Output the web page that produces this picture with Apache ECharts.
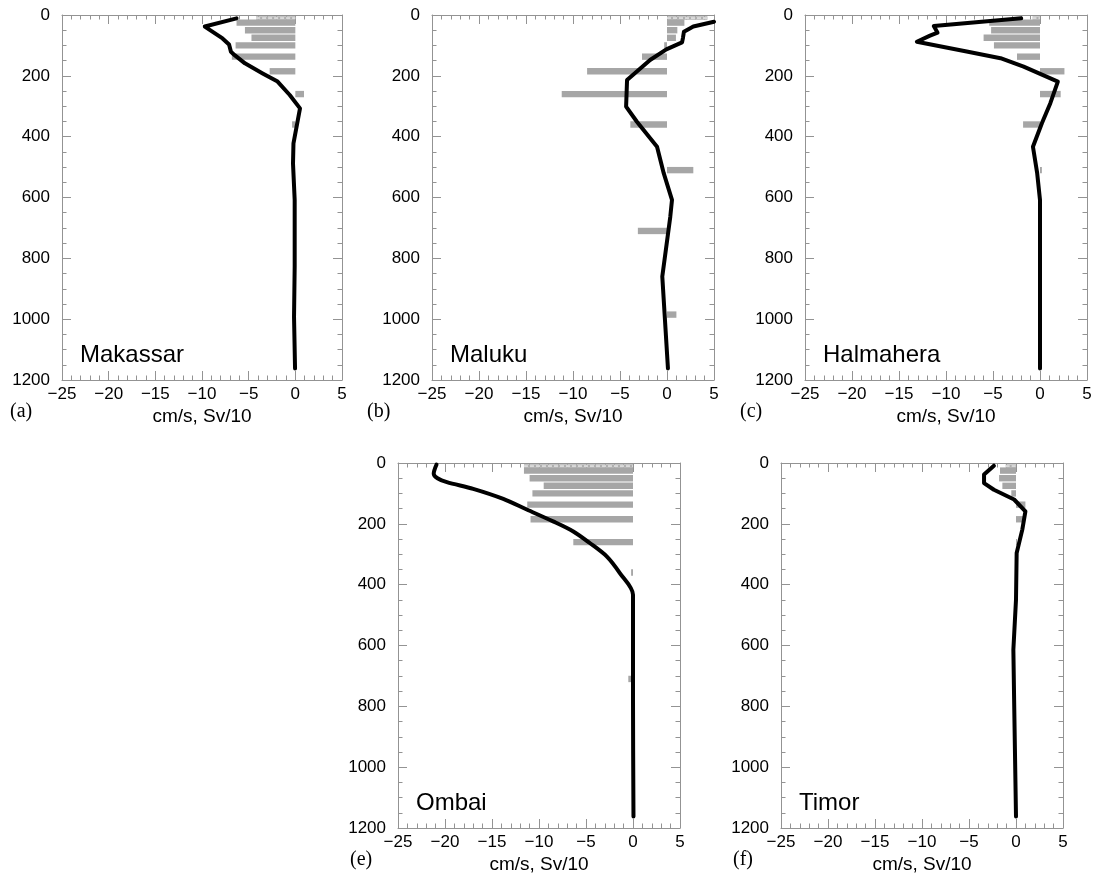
<!DOCTYPE html>
<html>
<head>
<meta charset="utf-8">
<script src="https://cdn.jsdelivr.net/npm/echarts@6/dist/echarts.min.js"></script>
<style>
  html, body { margin: 0; padding: 0; background: #fff; }
  #chart { width: 1097px; height: 874px; }
</style>
</head>
<body>
<div id="chart"></div>
<script>
// Layer centre depths (m) shared by the transport bars of every strait
const layerDepths = [10, 25, 50, 75, 100, 137, 185, 260, 360, 510, 710, 985];

// Layer transports (Sv/10), one entry per layer, null where no bar
const makassarBars  = [-4.2, -6.3, -5.4, -4.7, -6.4, -6.8, -2.75, 0.93, -0.35, null, null, null];
const malukuBars    = [4.3, 1.85, 1.1, 0.95, -0.3, -2.66, -8.5, -11.2, -3.9, 2.8, -3.1, 1.0];
const halmaheraBars = [-0.8, -5.4, -5.2, -6.0, -4.9, -2.45, 2.6, 2.2, -1.8, 0.2, null, null];
const ombaiBars     = [-11.6, -11.6, -11.0, -9.5, -10.7, -11.25, -10.9, -6.35, -0.2, null, -0.5, null];
const timorBars     = [-1.1, -1.7, -1.8, -1.45, -0.5, 1.0, 0.75, 0.1, null, null, null, null];

// Along-strait velocity profiles (cm/s) and their depths (m)
const makassarDepth = [11, 38, 77, 97, 121, 132, 159, 192, 219, 263, 307, 356, 422, 488, 608, 827, 992, 1162];
const makassarSpeed = [-6.3, -9.7, -7.8, -7.1, -6.9, -6.5, -5.4, -3.5, -1.9, -0.6, 0.5, 0.2, -0.2, -0.25, -0.07, -0.07, -0.14, -0.03];

const malukuDepth = [22, 38, 55, 75, 90, 113, 148, 214, 301, 351, 433, 520, 608, 663, 860, 1162];
const malukuSpeed = [5.0, 2.8, 1.8, 1.7, 1.6, -0.07, -1.8, -4.25, -4.35, -3.2, -1.06, -0.35, 0.53, 0.35, -0.5, 0.1];

const halmaheraDepth = [11, 36, 58, 68, 88, 120, 142, 170, 219, 290, 356, 433, 520, 608, 1162];
const halmaheraSpeed = [-2.0, -11.3, -10.9, -11.7, -13.1, -7.8, -4.2, -1.74, 1.9, 1.1, 0.2, -0.75, -0.3, 0, 0];

const ombaiDepth = [5, 35, 50, 63, 85, 118, 153, 192, 225, 263, 307, 362, 433, 614, 778, 1162];
const ombaiSpeed = [-20.9, -21.2, -20.8, -19.8, -17.0, -13.8, -11.3, -8.5, -6.35, -4.6, -2.8, -1.4, 0, 0, 0, 0.05];

const timorDepth = [9, 38, 66, 88, 120, 159, 219, 296, 449, 614, 778, 1162];
const timorSpeed = [-2.35, -3.4, -3.4, -2.35, -0.2, 1.0, 0.67, 0.07, 0, -0.28, -0.2, 0];

// Axis ticks
const speedTicks = { min: -25, max: 5, step: 5 };
const depthTicks = { min: 0, max: 1200, step: 200 };
const axisTitle = 'cm/s, Sv/10';

const panels = [
  { name: 'Makassar',  tag: '(a)', bars: makassarBars,  depth: makassarDepth,  speed: makassarSpeed,
    box: { left: 62,  top: 15,  width: 280, height: 365 }, tagAt: [10, 413], smooth: false },
  { name: 'Maluku',    tag: '(b)', bars: malukuBars,    depth: malukuDepth,    speed: malukuSpeed,
    box: { left: 432, top: 15,  width: 282, height: 365 }, tagAt: [367, 413], smooth: false },
  { name: 'Halmahera', tag: '(c)', bars: halmaheraBars, depth: halmaheraDepth, speed: halmaheraSpeed,
    box: { left: 805, top: 15,  width: 282, height: 365 }, tagAt: [740, 413], smooth: false },
  { name: 'Ombai',     tag: '(e)', bars: ombaiBars,     depth: ombaiDepth,     speed: ombaiSpeed,
    box: { left: 398, top: 463, width: 282, height: 365 }, tagAt: [350, 861], smooth: 0.3 },
  { name: 'Timor',     tag: '(f)', bars: timorBars,     depth: timorDepth,     speed: timorSpeed,
    box: { left: 781, top: 463, width: 282, height: 365 }, tagAt: [733, 861], smooth: false }
];

const SANS = '"Liberation Sans", Arial, Helvetica, sans-serif';
const SERIF = '"Liberation Serif", "Times New Roman", serif';
const AXIS_GREY = '#939393';
const BAR_GREY = '#a6a6a6';

const minus = v => String(v).replace('-', '\u2212');
const plain = v => String(v);

// Horizontal transport bar from 0 to the layer value; the surface layer is thinner with a dashed stripe
function renderLayerBar(params, api) {
  const v = api.value(0);
  const d = api.value(1);
  const surface = d === layerDepths[0];
  const a = api.coord([0, d]);
  const b = api.coord([v, d]);
  const h = api.size([0, surface ? 11 : 21])[1];
  const x = Math.min(a[0], b[0]);
  const w = Math.abs(b[0] - a[0]);
  const rect = {
    type: 'rect',
    shape: { x: x, y: a[1] - h / 2, width: w, height: h },
    style: { fill: surface ? '#b0b0b0' : BAR_GREY }
  };
  if (!surface) return rect;
  return {
    type: 'group',
    children: [rect, {
      type: 'line',
      shape: { x1: x, y1: a[1], x2: x + w, y2: a[1] },
      style: { stroke: '#ffffff', lineWidth: 1, lineDash: [4, 2] }
    }]
  };
}

const grid = [], xAxis = [], yAxis = [], series = [], graphic = [];

panels.forEach((p, i) => {
  grid.push(Object.assign({ containLabel: false, outerBoundsMode: 'none' }, p.box));

  const tickStyle = { color: AXIS_GREY, width: 1 };
  const xBase = {
    gridIndex: i, type: 'value',
    min: speedTicks.min, max: speedTicks.max, interval: speedTicks.step,
    axisLine: { show: true, onZero: false, lineStyle: { color: AXIS_GREY, width: 1 } },
    axisTick: { show: true, inside: true, length: 9, lineStyle: tickStyle },
    minorTick: { show: true, splitNumber: 5, length: 4.5, lineStyle: tickStyle },
    splitLine: { show: false }, minorSplitLine: { show: false }
  };
  xAxis.push(Object.assign({}, xBase, {
    position: 'bottom',
    axisLabel: { show: true, color: '#000', fontSize: 17, fontFamily: SANS, margin: 6, formatter: minus },
    name: axisTitle, nameLocation: 'middle', nameGap: 27,
    nameTextStyle: { color: '#000', fontSize: 19, fontFamily: SANS }
  }));
  xAxis.push(Object.assign({}, xBase, { position: 'top', axisLabel: { show: false } }));

  const yBase = {
    gridIndex: i, type: 'value', inverse: true,
    min: depthTicks.min, max: depthTicks.max, interval: depthTicks.step,
    axisLine: { show: true, onZero: false, lineStyle: { color: AXIS_GREY, width: 1 } },
    axisTick: { show: true, inside: true, length: 9, lineStyle: tickStyle },
    minorTick: { show: true, splitNumber: 4, length: 4.5, lineStyle: tickStyle },
    splitLine: { show: false }, minorSplitLine: { show: false }
  };
  yAxis.push(Object.assign({}, yBase, {
    position: 'left',
    axisLabel: { show: true, color: '#000', fontSize: 17, fontFamily: SANS, margin: 12, formatter: plain }
  }));
  yAxis.push(Object.assign({}, yBase, { position: 'right', axisLabel: { show: false } }));

  const barData = [];
  p.bars.forEach((v, k) => { if (v !== null) barData.push([v, layerDepths[k]]); });

  series.push({
    type: 'custom', xAxisIndex: 2 * i, yAxisIndex: 2 * i,
    renderItem: renderLayerBar, data: barData, clip: true, z: 2, silent: true
  });
  series.push({
    type: 'line', xAxisIndex: 2 * i, yAxisIndex: 2 * i,
    data: p.speed.map((v, k) => [v, p.depth[k]]),
    symbol: 'none', smooth: p.smooth, clip: true, z: 3, silent: true,
    lineStyle: { color: '#000', width: 4, join: 'round', cap: 'round' }
  });

  graphic.push({
    type: 'text', left: p.box.left + 18, top: p.box.top + p.box.height - 37, silent: true,
    style: { text: p.name, font: '24px ' + SANS, fill: '#000' }
  });
  graphic.push({
    type: 'text', left: p.tagAt[0], top: p.tagAt[1] - 11, silent: true,
    style: { text: p.tag, font: '20px ' + SERIF, fill: '#000' }
  });
});

const chart = echarts.init(document.getElementById('chart'), null, { renderer: 'canvas' });
chart.setOption({
  animation: false,
  backgroundColor: '#ffffff',
  grid, xAxis, yAxis, series, graphic
});
</script>
</body>
</html>
